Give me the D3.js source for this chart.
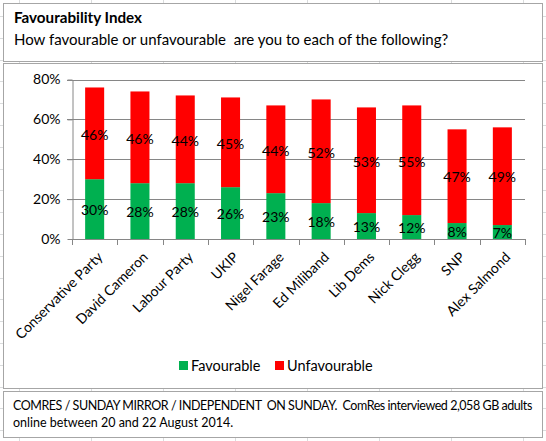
<!DOCTYPE html>
<html>
<head>
<meta charset="utf-8">
<script src="https://cdn.jsdelivr.net/npm/d3@7"></script>
<style>
  body { margin: 0; background: #fff; }
  svg { display: block; font-family: Lato, "Open Sans", sans-serif; }
  .pre { white-space: pre; }
</style>
</head>
<body>
<svg id="chart" width="546" height="441"></svg>
<script>
const categories = ["Conservative Party", "David Cameron", "Labour Party", "UKIP", "Nigel Farage",
  "Ed Miliband", "Lib Dems", "Nick Clegg", "SNP", "Alex Salmond"];
const favourable = [30, 28, 28, 26, 23, 18, 13, 12, 8, 7];
const unfavourable = [46, 46, 44, 45, 44, 52, 53, 55, 47, 49];
const yTicks = [0, 20, 40, 60, 80];
const seriesNames = ["Favourable", "Unfavourable"];
const colors = ["#00b050", "#ff0000"];

const svg = d3.select("#chart");

// faint spreadsheet cells behind the boxes
const bg = svg.append("g").attr("stroke", "#dadcdd").attr("stroke-width", 1);
d3.range(19, 546, 72).forEach(x => {
  bg.append("line").attr("x1", x + 0.5).attr("x2", x + 0.5).attr("y1", 0).attr("y2", 441);
});
d3.range(16, 441, 21.8).forEach(y => {
  bg.append("line").attr("x1", 0).attr("x2", 546).attr("y1", Math.round(y) + 0.5).attr("y2", Math.round(y) + 0.5);
});

// boxes
const boxes = [[3, 3, 539, 58], [3, 63, 539, 325], [3, 391, 539, 46]];
boxes.forEach(b => {
  svg.append("rect")
    .attr("x", b[0] + 0.5).attr("y", b[1] + 0.5)
    .attr("width", b[2]).attr("height", b[3])
    .attr("fill", "#fff").attr("stroke", "#a6a6a6");
});

svg.append("text").attr("x", 14).attr("y", 23)
  .style("font-weight", "bold").style("font-size", "15.2px")
  .text("Favourability Index");
svg.append("text").attr("class", "pre").attr("x", 14).attr("y", 45)
  .style("font-size", "15px")
  .text("How favourable or unfavourable  are you to each of the following?");

// plot
const x = d3.scaleBand().domain(categories).range([72, 525]).paddingInner(0.58).paddingOuter(0.29);
const y = d3.scaleLinear().domain([0, 80]).range([239, 79.5]);
const axisColor = "#868686";

const grid = svg.append("g");
yTicks.filter(t => t > 0).forEach(t => {
  grid.append("line").attr("x1", 67).attr("x2", 525)
    .attr("y1", Math.round(y(t)) + 0.5).attr("y2", Math.round(y(t)) + 0.5)
    .attr("stroke", axisColor);
});

const rows = categories.map((c, i) => ({ cat: c, fav: favourable[i], unfav: unfavourable[i] }));
const stack = d3.stack().keys(["fav", "unfav"])(rows);

const layers = svg.append("g").selectAll("g").data(stack).enter().append("g")
  .attr("fill", (d, i) => colors[i]);

layers.selectAll("rect").data(d => d).enter().append("rect")
  .attr("x", d => x(d.data.cat))
  .attr("width", x.bandwidth())
  .attr("y", d => y(d[1]))
  .attr("height", d => y(d[0]) - y(d[1]));

layers.selectAll("text").data(d => d).enter().append("text")
  .attr("x", d => x(d.data.cat) + x.bandwidth() / 2)
  .attr("y", d => (y(d[0]) + y(d[1])) / 2)
  .attr("dy", "0.45em")
  .attr("text-anchor", "middle")
  .attr("fill", "#000")
  .style("font-size", "14px")
  .text(d => (d[1] - d[0]) + "%");

// y axis
const yAxis = svg.append("g").attr("transform", "translate(72.5,0)")
  .call(d3.axisLeft(y).tickValues(yTicks).tickFormat(d => d + "%").tickSizeOuter(0).tickSizeInner(5).tickPadding(7));
yAxis.select(".domain").attr("stroke", axisColor);
yAxis.selectAll(".tick line").attr("stroke", axisColor);
yAxis.selectAll("text").style("font-size", "14px").attr("fill", "#000").style("font-family", "Lato, sans-serif");

// x axis with tick marks at category boundaries
const xAxis = svg.append("g");
xAxis.append("line").attr("x1", 72).attr("x2", 525.5).attr("y1", 239.5).attr("y2", 239.5).attr("stroke", axisColor);
d3.range(categories.length + 1).forEach(i => {
  const tx = Math.round(72 + i * x.step()) + 0.5;
  xAxis.append("line").attr("x1", tx).attr("x2", tx).attr("y1", 239).attr("y2", 245).attr("stroke", axisColor);
});
xAxis.selectAll("text.cat").data(categories).enter().append("text")
  .attr("class", "cat")
  .attr("text-anchor", "end")
  .attr("transform", d => `translate(${x(d) + x.bandwidth() / 2 + 2},${251}) rotate(-45)`)
  .attr("dy", "0.7em")
  .style("font-size", "14px")
  .text(d => d);

// legend
const legend = svg.append("g");
const legendX = [179, 275];
seriesNames.forEach((name, i) => {
  legend.append("rect").attr("x", legendX[i]).attr("y", 361).attr("width", 9).attr("height", 9).attr("fill", colors[i]);
  legend.append("text").attr("x", legendX[i] + 12).attr("y", 371).style("font-size", "14.5px").text(name);
});

// footer
svg.append("text").attr("class", "pre").attr("x", 13).attr("y", 410)
  .style("font-size", "12.5px").style("letter-spacing", "-0.45px")
  .text("COMRES / SUNDAY MIRROR / INDEPENDENT  ON SUNDAY.  ComRes interviewed 2,058 GB adults");
svg.append("text").attr("x", 13).attr("y", 427).style("font-size", "12.5px")
  .text("online between 20 and 22 August 2014.");
</script>
</body>
</html>
